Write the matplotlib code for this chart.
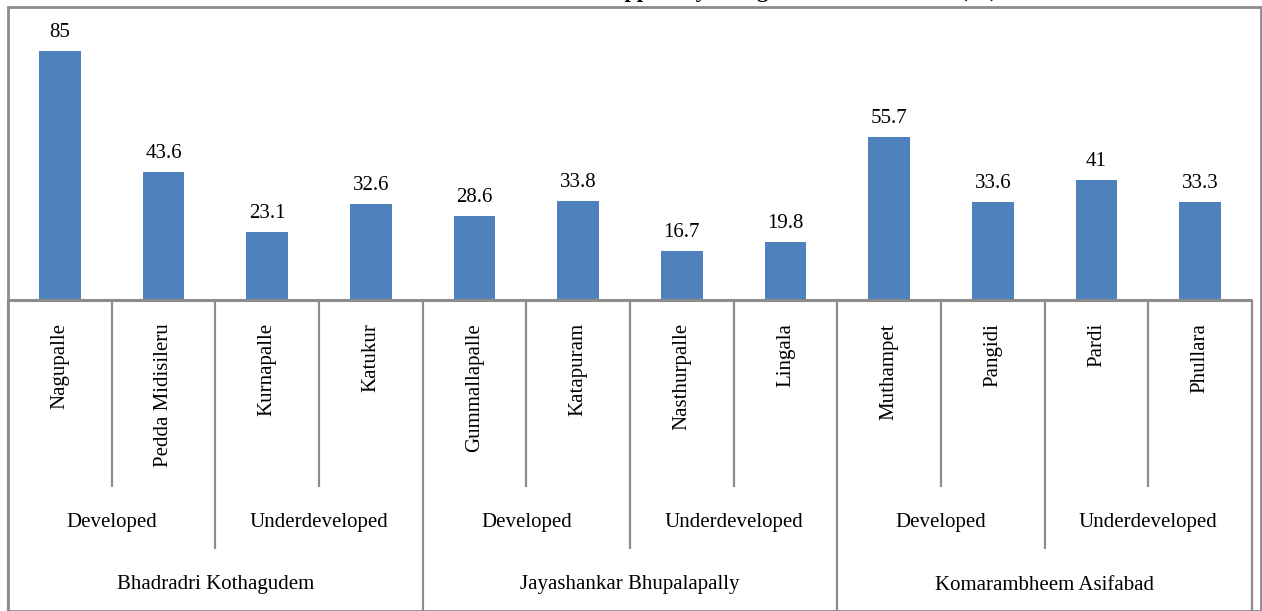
import matplotlib
matplotlib.use("Agg")
import matplotlib.pyplot as plt
from matplotlib.patches import Rectangle

# Data
villages = ["Nagupalle", "Pedda Midisileru", "Kurnapalle", "Katukur",
            "Gummallapalle", "Katapuram", "Nasthurpalle", "Lingala",
            "Muthampet", "Pangidi", "Pardi", "Phullara"]
values = [85, 43.6, 23.1, 32.6, 28.6, 33.8, 16.7, 19.8, 55.7, 33.6, 41, 33.3]
status = ["Developed", "Underdeveloped"] * 3
districts = ["Bhadradri Kothagudem", "Jayashankar Bhupalapally", "Komarambheem Asifabad"]
title = "Share of Households that Received Support by Village Level and District (%)"

W, H = 1262, 611
plt.rcParams["font.family"] = ["Liberation Serif", "DejaVu Serif"]
fig = plt.figure(figsize=(W / 100, H / 100), dpi=100)

def fx(px):
    return px / W

def fy(py):
    return 1 - py / H

left, right, top, base = 8, 1252, 7, 300
line_col = "#8c8c8c"
bar_col = "#4F81BD"
fs = 15

n = len(villages)
x = list(range(n))

# Bar plot area
ax = fig.add_axes([fx(left), fy(base), fx(right - left), (base - top) / H])
ax.bar(x, values, width=0.405, color=bar_col, zorder=2)
ax.set_xlim(-0.5, n - 0.5)
ax.set_ylim(0, 100)
ax.axis("off")
for xi, v in zip(x, values):
    ax.annotate(f"{v:g}", (xi, v), xytext=(0, 6.5), textcoords="offset points",
                ha="center", va="bottom", fontsize=fs)

# Multi-level category axis below the bars
tab = fig.add_axes([fx(left), 0, fx(right - left), (H - base) / H])
tab.set_xlim(-0.5, n - 0.5)
tab.set_ylim(H - base, 0)
tab.axis("off")

lw = 1.6
tab.hlines(0, -0.5, n - 0.5, color=line_col, lw=2.2, clip_on=False)
for i, name in enumerate(villages):
    tab.text(i, 23, name, rotation=90, ha="center", va="top", fontsize=fs)
# separators between villages, status groups and districts
for i in range(n - 1):
    b = i + 0.5
    if (i + 1) % 4 == 0:
        tab.vlines(b, 0, H - base + 5, color=line_col, lw=lw, clip_on=False)
    elif (i + 1) % 2 == 0:
        tab.vlines(b, 0, 249, color=line_col, lw=lw)
    else:
        tab.vlines(b, 0, 187, color=line_col, lw=lw)
tab.vlines([-0.5, n - 0.5], 0, H - base + 5, color=line_col, lw=lw, clip_on=False)

for j, s in enumerate(status):
    tab.text(2 * j + 0.5, 222, s, ha="center", va="center", fontsize=fs)
for k, d in enumerate(districts):
    tab.text(4 * k + 1.5, 285, d, ha="center", va="center", fontsize=fs)

# Chart border
fig.add_artist(Rectangle((fx(left), 0), fx(1261 - left), fy(top), transform=fig.transFigure,
                         fill=False, edgecolor=line_col, lw=2.0))

# Title, sitting just above the top edge of the chart area
fig.text(0.5, 1 + 2.5 / H, title, ha="center", va="baseline",
         fontsize=16, fontweight="bold")

fig.savefig("out.png", dpi=100)
